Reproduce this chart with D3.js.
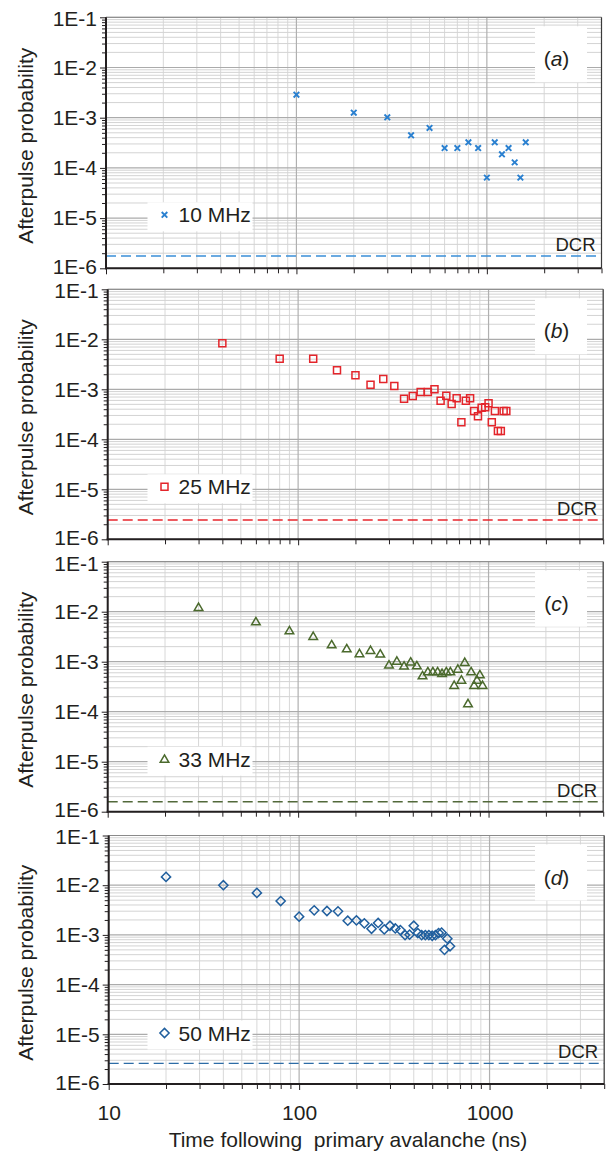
<!DOCTYPE html>
<html>
<head>
<meta charset="utf-8">
<script src="https://cdn.jsdelivr.net/npm/d3@7"></script>
<style>
  html, body { margin: 0; padding: 0; background: #fff; }
  svg text { font-family: "Liberation Sans", Arial, Helvetica, sans-serif; fill: #231f20; }
</style>
</head>
<body>
<svg id="chart" width="606" height="1155"></svg>
<script>
// Afterpulse probability versus time after a primary avalanche, four gate rates.

const xTickValues = [10, 100, 1000];
const xTickLabels = ["10", "100", "1000"];
const yTickValues = [1e-1, 1e-2, 1e-3, 1e-4, 1e-5, 1e-6];
const yTickLabels = ["1E-1", "1E-2", "1E-3", "1E-4", "1E-5", "1E-6"];
const yTitle = "Afterpulse probability";
const xTitle = "Time following  primary avalanche (ns)";
const panelTags = ["a", "b", "c", "d"];
const seriesNames = ["10 MHz", "25 MHz", "33 MHz", "50 MHz"];
const dcrLabel = "DCR";
const dcrLevels = [1.76e-6, 2.43e-6, 1.58e-6, 2.6e-6];

// 10 MHz
const time10 = [100, 200, 300, 400, 500, 600, 700, 800, 900, 1000, 1100, 1200, 1300, 1400, 1500, 1600];
const prob10 = [2.87e-3, 1.26e-3, 1.02e-3, 4.46e-4, 6.24e-4, 2.49e-4, 2.49e-4, 3.24e-4, 2.49e-4, 6.4e-5,
                3.24e-4, 1.87e-4, 2.49e-4, 1.29e-4, 6.4e-5, 3.24e-4];

// 25 MHz
const time25 = [40, 80, 120, 160, 200, 240, 280, 320, 360, 400, 440, 480, 520, 560, 600, 640,
                680, 720, 760, 800, 840, 880, 920, 960, 1000, 1040, 1080, 1120, 1160, 1200, 1240];
const prob25 = [8.3e-3, 4.1e-3, 4.1e-3, 2.4e-3, 1.9e-3, 1.24e-3, 1.61e-3, 1.16e-3, 6.5e-4, 7.35e-4,
                8.8e-4, 8.8e-4, 1.0e-3, 5.9e-4, 7.45e-4, 5.1e-4, 6.6e-4, 2.2e-4, 5.9e-4, 6.6e-4,
                3.7e-4, 2.9e-4, 4.3e-4, 4.4e-4, 5.25e-4, 2.2e-4, 3.7e-4, 1.47e-4, 1.47e-4, 3.7e-4, 3.7e-4];

// 33 MHz
const time33 = [30, 60, 90, 120, 150, 180, 210, 240, 270, 300, 330, 360, 390, 420, 450, 480,
                510, 540, 570, 600, 630, 660, 690, 720, 750, 780, 810, 840, 870, 900, 930];
const prob33 = [1.22e-2, 6.3e-3, 4.17e-3, 3.22e-3, 2.19e-3, 1.82e-3, 1.45e-3, 1.69e-3, 1.43e-3, 8.6e-4,
                1.03e-3, 8.2e-4, 9.9e-4, 8.3e-4, 5.25e-4, 6.3e-4, 6.3e-4, 6.3e-4, 5.86e-4, 6.3e-4,
                6.3e-4, 3.37e-4, 7.1e-4, 4.3e-4, 9.7e-4, 1.45e-4, 6.3e-4, 3.37e-4, 4.3e-4, 5.5e-4, 3.37e-4];

// 50 MHz
const time50 = [20, 40, 60, 80, 100, 120, 140, 160, 180, 200, 220, 240, 260, 280, 300, 320,
                340, 360, 380, 400, 420, 440, 460, 480, 500, 520, 540, 560, 580, 600, 620];
const prob50 = [1.47e-2, 1.0e-2, 7.0e-3, 4.8e-3, 2.33e-3, 3.12e-3, 3.03e-3, 2.98e-3, 1.93e-3, 1.96e-3,
                1.71e-3, 1.33e-3, 1.74e-3, 1.29e-3, 1.53e-3, 1.35e-3, 1.25e-3, 9.9e-4, 1.01e-3, 1.53e-3,
                1.09e-3, 9.9e-4, 9.9e-4, 9.9e-4, 9.6e-4, 9.9e-4, 1.09e-3, 1.11e-3, 5.0e-4, 8.4e-4, 5.9e-4];

const seriesTimes = [time10, time25, time33, time50];
const seriesProbs = [prob10, prob25, prob33, prob50];

// ---- layout and styling ----
const layout = [
  { left: 106.0, top: 17.3, height: 251 },
  { left: 107.7, top: 289.3, height: 250 },
  { left: 107.7, top: 561.7, height: 250 },
  { left: 108.7, top: 835.5, height: 248.5 }
];
const plotWidth = 495.5;
const fontSize = 21;
const markerColors = ["#2a80d0", "#e3252b", "#4b6a2d", "#205f9e"];
const dcrColors = ["#3a8ed8", "#e8262c", "#52693a", "#2d6ca6"];
const markerShapes = ["cross", "square", "triangle", "diamond"];
const ink = "#231f20";

const svg = d3.select("#chart");
svg.append("rect").attr("width", 606).attr("height", 1155).attr("fill", "#fff");

function isDecade(v) {
  const l = Math.log10(v);
  return Math.abs(l - Math.round(l)) < 1e-9;
}

function markerPath(shape) {
  const p = d3.path();
  if (shape === "cross") {
    const r = 2.8;
    p.moveTo(-r, -r); p.lineTo(r, r);
    p.moveTo(r, -r); p.lineTo(-r, r);
  } else if (shape === "square") {
    p.rect(-3.5, -3.5, 7, 7);
  } else if (shape === "triangle") {
    p.moveTo(0, -4.3); p.lineTo(4.3, 3.1); p.lineTo(-4.3, 3.1); p.closePath();
  } else {
    p.moveTo(0, -4.6); p.lineTo(4.6, 0); p.lineTo(0, 4.6); p.lineTo(-4.6, 0); p.closePath();
  }
  return p.toString();
}

layout.forEach((L, i) => {
  const x = d3.scaleLog().domain([10, 4000]).range([0, plotWidth]);
  const y = d3.scaleLog().domain([1e-6, 1e-1]).range([L.height, 0]);
  const g = svg.append("g").attr("transform", `translate(${L.left},${L.top})`);

  // grid: minor then major
  const xt = x.ticks();
  const yt = y.ticks();
  const grid = g.append("g");
  grid.selectAll("line.vminor").data(xt.filter(v => !isDecade(v))).join("line")
    .attr("x1", d => x(d)).attr("x2", d => x(d)).attr("y1", 0).attr("y2", L.height)
    .attr("stroke", "#d8d8d8").attr("stroke-width", 1);
  grid.selectAll("line.hminor").data(yt.filter(v => !isDecade(v))).join("line")
    .attr("x1", 0).attr("x2", plotWidth).attr("y1", d => y(d)).attr("y2", d => y(d))
    .attr("stroke", "#d3d3d3").attr("stroke-width", 1);
  grid.selectAll("line.vmajor").data(xt.filter(isDecade)).join("line")
    .attr("x1", d => x(d)).attr("x2", d => x(d)).attr("y1", 0).attr("y2", L.height)
    .attr("stroke", "#b0b0b0").attr("stroke-width", 1.2);
  grid.selectAll("line.hmajor").data(yt.filter(isDecade)).join("line")
    .attr("x1", 0).attr("x2", plotWidth).attr("y1", d => y(d)).attr("y2", d => y(d))
    .attr("stroke", "#ababab").attr("stroke-width", 1.2);

  // legend box
  g.append("rect").attr("x", 147.5 - L.left).attr("y", 185).attr("width", 105).attr("height", 29)
    .attr("fill", "#fff");
  g.append("path").attr("d", markerPath(markerShapes[i]))
    .attr("transform", `translate(${164.5 - L.left},197.5)`)
    .attr("fill", "none").attr("stroke", markerColors[i])
    .attr("stroke-width", markerShapes[i] === "cross" ? 1.9 : 1.5);
  g.append("text").attr("x", 178.5 - L.left).attr("y", 205)
    .attr("font-size", fontSize).text(seriesNames[i]);

  // panel tag box
  g.append("rect").attr("x", 535 - L.left).attr("y", 9).attr("width", 52).attr("height", 56)
    .attr("fill", "#fff");
  const tag = g.append("text").attr("x", 556.5 - L.left).attr("y", 49)
    .attr("text-anchor", "middle").attr("font-size", fontSize);
  tag.append("tspan").text("(");
  tag.append("tspan").attr("font-style", "italic").text(panelTags[i]);
  tag.append("tspan").text(")");

  // dark count rate level
  const yd = y(dcrLevels[i]);
  g.append("line").attr("x1", 0).attr("x2", plotWidth).attr("y1", yd).attr("y2", yd)
    .attr("stroke", dcrColors[i]).attr("stroke-width", 1.4).attr("stroke-dasharray", "10,5");
  g.append("text").attr("x", plotWidth - 6).attr("y", yd - 5).attr("text-anchor", "end")
    .attr("font-size", 18.5).text(dcrLabel);

  // markers
  const pts = seriesTimes[i].map((t, k) => ({ t, p: seriesProbs[i][k] }));
  g.append("g").selectAll("path").data(pts).join("path")
    .attr("d", markerPath(markerShapes[i]))
    .attr("transform", d => `translate(${x(d.t)},${y(d.p)})`)
    .attr("fill", "none").attr("stroke", markerColors[i])
    .attr("stroke-width", markerShapes[i] === "cross" ? 1.9 : 1.5);

  // frame: light top/right, heavy left/bottom
  g.append("line").attr("x1", 0).attr("x2", plotWidth).attr("y1", 0).attr("y2", 0)
    .attr("stroke", "#8a8a8a").attr("stroke-width", 1);
  g.append("line").attr("x1", plotWidth).attr("x2", plotWidth).attr("y1", 0).attr("y2", L.height)
    .attr("stroke", "#3a3a3a").attr("stroke-width", 1.2);

  // y axis: minor ticks, then major ticks with labels
  const yMinor = d3.axisLeft(y).tickValues(yt.filter(v => !isDecade(v))).tickSize(4).tickFormat("");
  const yMajor = d3.axisLeft(y).tickValues(yTickValues).tickSize(6).tickPadding(3)
    .tickFormat((d, k) => yTickLabels[k]);
  const ya1 = g.append("g").call(yMinor);
  const ya2 = g.append("g").call(yMajor);
  [ya1, ya2].forEach(a => {
    a.select(".domain").remove();
    a.selectAll("line").attr("stroke", ink).attr("stroke-width", 1);
  });
  // nudge the end labels apart slightly so stacked panels' labels don't collide
  ya2.selectAll("text").attr("font-size", fontSize).attr("fill", ink)
    .style("font-family", '"Liberation Sans", Arial, sans-serif')
    .attr("y", (d, k) => (k === 0 ? 1.6 : k === yTickValues.length - 1 ? -1.6 : 0));

  // x axis
  const xMinor = d3.axisBottom(x).tickValues(xt.filter(v => !isDecade(v))).tickSize(5).tickFormat("");
  const xMajor = d3.axisBottom(x).tickValues(xTickValues).tickSize(6).tickPadding(15)
    .tickFormat((d, k) => (i === 3 ? xTickLabels[k] : ""));
  const xa1 = g.append("g").attr("transform", `translate(0,${L.height})`).call(xMinor);
  const xa2 = g.append("g").attr("transform", `translate(0,${L.height})`).call(xMajor);
  [xa1, xa2].forEach(a => {
    a.select(".domain").remove();
    a.selectAll("line").attr("stroke", ink).attr("stroke-width", 1);
  });
  xa2.selectAll("text").attr("font-size", fontSize).attr("fill", ink)
    .style("font-family", '"Liberation Sans", Arial, sans-serif');

  g.append("line").attr("x1", 0).attr("x2", 0).attr("y1", 0).attr("y2", L.height + 1)
    .attr("stroke", ink).attr("stroke-width", 2);
  g.append("line").attr("x1", -1).attr("x2", plotWidth).attr("y1", L.height).attr("y2", L.height)
    .attr("stroke", ink).attr("stroke-width", 2);

  // y axis title
  svg.append("text")
    .attr("transform", `translate(33,${L.top + L.height / 2 + 3}) rotate(-90)`)
    .attr("text-anchor", "middle").attr("font-size", fontSize).text(yTitle);
});

// x axis title
svg.append("text").attr("x", 348).attr("y", 1147).attr("text-anchor", "middle")
  .attr("font-size", fontSize).style("white-space", "pre").text(xTitle);
</script>
</body>
</html>
